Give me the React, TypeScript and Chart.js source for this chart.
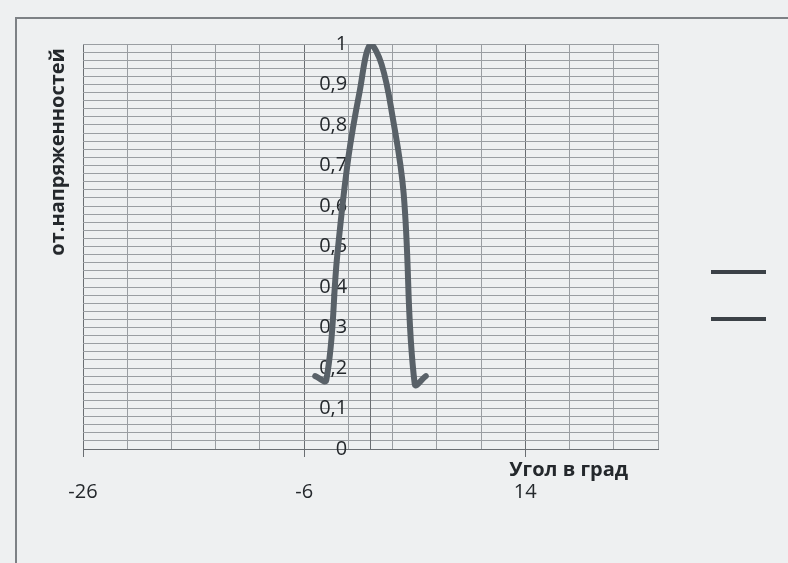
import React, { useEffect, useRef } from 'react';
import { Chart, registerables } from 'chart.js';

Chart.register(...registerables);

// ---- data ----
const angles = [-5, -4, -3, -2, -1, 0, 1, 2, 3, 4, 5];
const intensity = [0.18, 0.17, 0.48, 0.72, 0.88, 1.0, 0.95, 0.82, 0.63, 0.16, 0.18];

// x grid (every 4 degrees) and the three labelled ticks
const xGridValues = [-26, -22, -18, -14, -10, -6, -2, 2, 6, 10, 14, 18, 22, 26];
const xLabelValues = [-26, -6, 14];
// y labels for every 0.1
const yLabels = ['0', '0,1', '0,2', '0,3', '0,4', '0,5', '0,6', '0,7', '0,8', '0,9', '1'];
const legendEntries = ['', ''];

const xTitle = 'Угол в град';
const yTitle = 'от.напряженностей';

const FONT = '"Open Sans", "Noto Sans", sans-serif';
const TEXT = '#24282c';
const GRID = '#9a9ea2';
const GRID_MAJOR = '#6a6e72';
// gap between the y labels and the axis line (the axis sits at x = 0, where Chart.js adds no padding)
const Y_LABEL_GAP = '\u2002\u2002\u2009';

const titlesPlugin = {
  id: 'excelTitles',
  afterDraw(chart: any) {
    const { ctx, chartArea } = chart;
    ctx.save();
    ctx.fillStyle = TEXT;
    ctx.font = `bold 20px ${FONT}`;
    ctx.textBaseline = 'middle';
    ctx.textAlign = 'right';
    ctx.fillText(xTitle, chartArea.right - 30, chartArea.bottom + 21);
    ctx.translate(chartArea.left - 25, chartArea.top + 4);
    ctx.rotate(-Math.PI / 2);
    ctx.textAlign = 'right';
    ctx.fillText(yTitle, 0, 0);
    ctx.restore();
  },
};

export default function App() {
  const canvasRef = useRef<HTMLCanvasElement | null>(null);

  useEffect(() => {
    if (!canvasRef.current) return;
    const chart = new Chart(canvasRef.current, {
      type: 'line',
      data: {
        datasets: [
          {
            label: 'Ряд1',
            data: angles.map((a, i) => ({ x: a, y: intensity[i] })),
            borderColor: '#596168',
            borderWidth: 6,
            borderCapStyle: 'round',
            borderJoinStyle: 'round',
            pointRadius: 0,
            tension: 0.4,
            fill: false,
          },
        ],
      },
      plugins: [titlesPlugin],
      options: {
        animation: false,
        responsive: true,
        maintainAspectRatio: false,
        layout: { padding: { left: 83, top: 44, right: 6, bottom: 16 } },
        plugins: {
          tooltip: { enabled: false },
          title: { display: false },
          legend: {
            display: true,
            position: 'right',
            align: 'center',
            labels: {
              boxWidth: 55,
              boxHeight: 4,
              padding: 35,
              font: { size: 12, family: FONT },
              generateLabels: () =>
                legendEntries.map((t) => ({
                  text: t,
                  fillStyle: '#3b4147',
                  strokeStyle: '#3b4147',
                  lineWidth: 0,
                  hidden: false,
                })),
            },
          },
        },
        scales: {
          x: {
            type: 'linear',
            min: -26,
            max: 26,
            afterBuildTicks: (scale: any) => {
              scale.ticks = xGridValues.map((v) => ({ value: v }));
            },
            afterFit: (scale: any) => {
              scale.height = 98;
            },
            grid: {
              color: (c: any) => (c.tick && xLabelValues.includes(c.tick.value) ? GRID_MAJOR : GRID),
              tickColor: (c: any) => (c.tick && xLabelValues.includes(c.tick.value) ? GRID_MAJOR : 'rgba(0,0,0,0)'),
              tickLength: 8,
              lineWidth: 1,
            },
            border: { display: true, color: GRID_MAJOR, width: 1 },
            ticks: {
              autoSkip: false,
              maxRotation: 0,
              padding: 23,
              color: TEXT,
              font: { size: 20, family: FONT },
              callback: (v: any) => (xLabelValues.includes(Number(v)) ? String(v) : ''),
            },
          },
          y: {
            type: 'linear',
            min: 0,
            max: 1,
            position: { x: 0 } as any,
            ticks: {
              stepSize: 0.02,
              autoSkip: false,
              padding: 0,
              color: TEXT,
              font: { size: 20, family: FONT },
              callback: (v: any) => {
                const k = Number(v) * 10;
                return Math.abs(k - Math.round(k)) < 1e-6 ? yLabels[Math.round(k)] + Y_LABEL_GAP : '';
              },
            },
            grid: {
              color: GRID,
              lineWidth: 1,
              drawTicks: false,
            },
            border: { display: true, color: GRID_MAJOR, width: 1 },
          },
          spacer: {
            type: 'linear',
            position: 'right',
            display: true,
            grid: { display: false },
            border: { display: false },
            ticks: { display: false },
            afterFit: (scale: any) => {
              scale.width = 18;
            },
          },
        },
      } as any,
    });
    return () => chart.destroy();
  }, []);

  return (
    <div
      style={{
        position: 'absolute',
        left: 0,
        top: 0,
        width: 788,
        height: 563,
        background: '#eef0f1',
        overflow: 'hidden',
      }}
    >
      <div
        style={{
          position: 'absolute',
          left: 15,
          top: 17,
          width: 800,
          height: 600,
          borderLeft: '2px solid #7d8185',
          borderTop: '2px solid #7d8185',
        }}
      />
      <div style={{ position: 'absolute', left: 0, top: 0, width: 788, height: 563 }}>
        <canvas ref={canvasRef} />
      </div>
    </div>
  );
}
